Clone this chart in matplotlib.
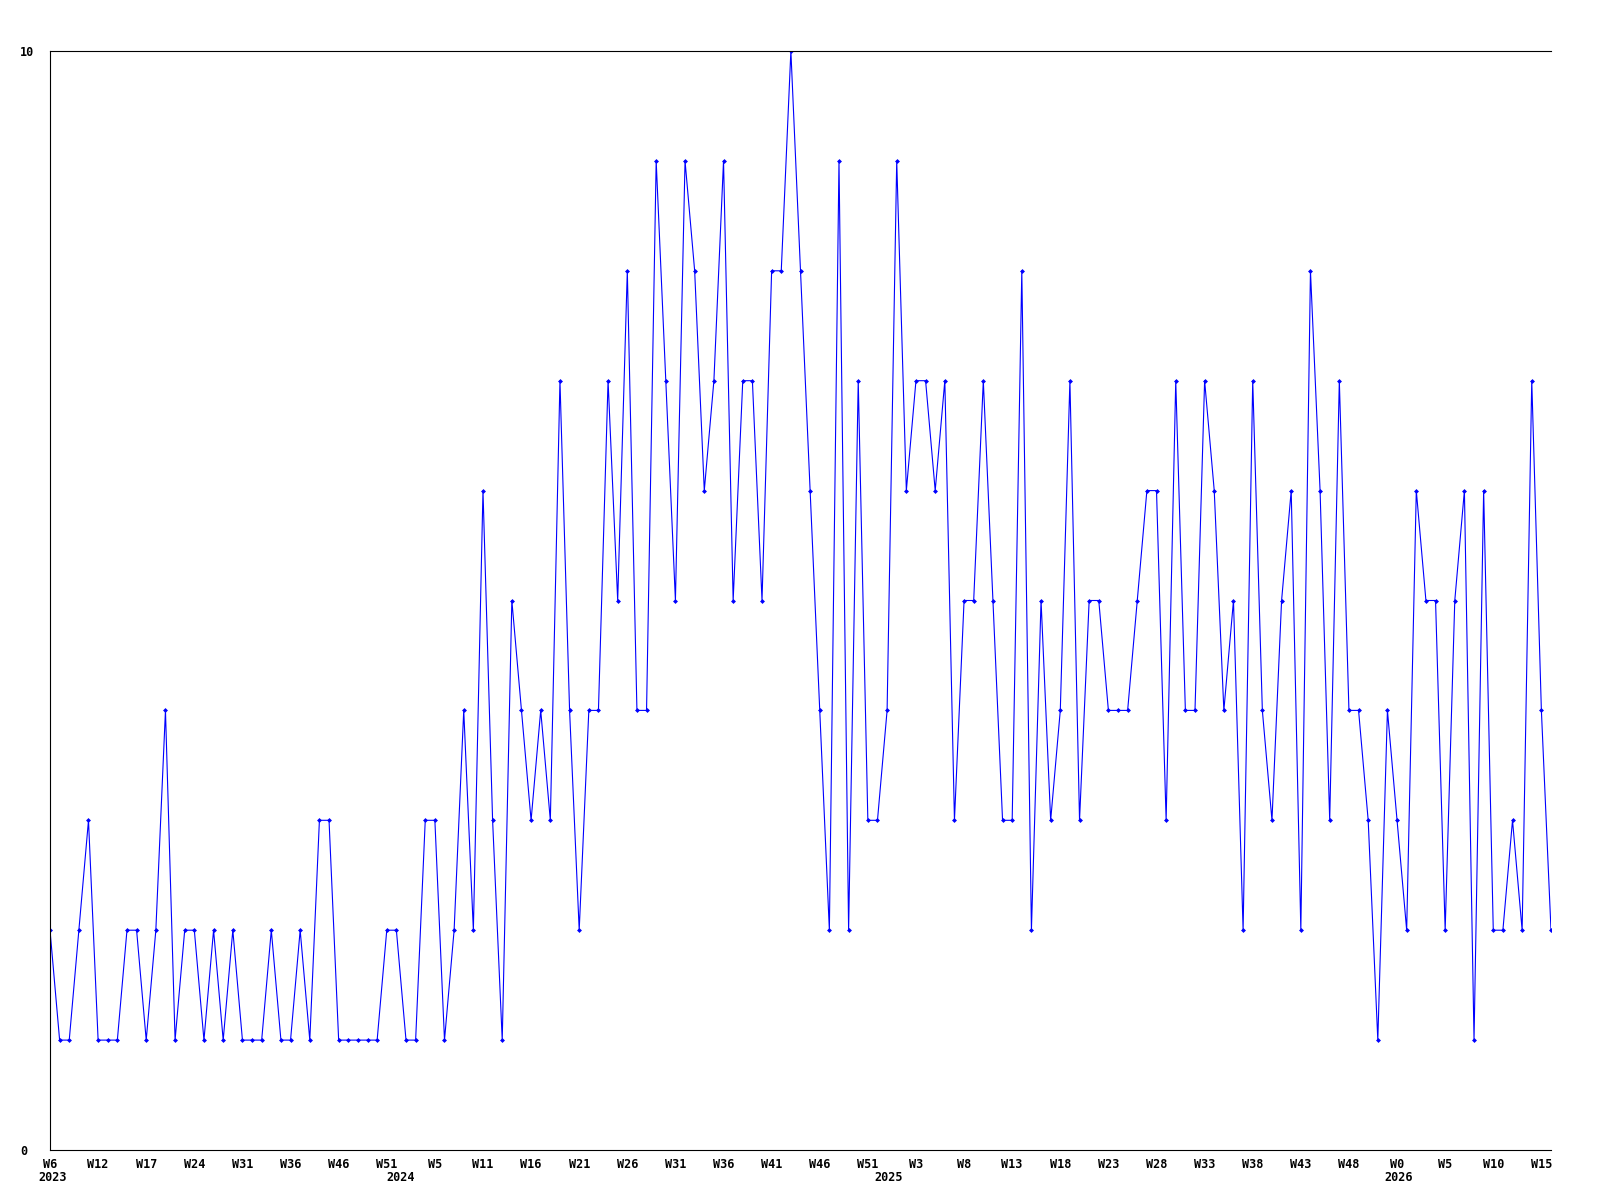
import matplotlib
matplotlib.use('Agg')
import matplotlib.pyplot as plt

# weekly values, one per point (157 points)
values = [2, 1, 1, 2, 3, 1, 1, 1, 2, 2, 1, 2, 4, 1, 2, 2, 1, 2, 1, 2,
          1, 1, 1, 2, 1, 1, 2, 1, 3, 3, 1, 1, 1, 1, 1, 2, 2, 1, 1, 3,
          3, 1, 2, 4, 2, 6, 3, 1, 5, 4, 3, 4, 3, 7, 4, 2, 4, 4, 7, 5,
          8, 4, 4, 9, 7, 5, 9, 8, 6, 7, 9, 5, 7, 7, 5, 8, 8, 10, 8, 6,
          4, 2, 9, 2, 7, 3, 3, 4, 9, 6, 7, 7, 6, 7, 3, 5, 5, 7, 5, 3,
          3, 8, 2, 5, 3, 4, 7, 3, 5, 5, 4, 4, 4, 5, 6, 6, 3, 7, 4, 4,
          7, 6, 4, 5, 2, 7, 4, 3, 5, 6, 2, 8, 6, 3, 7, 4, 4, 3, 1, 4,
          3, 2, 6, 5, 5, 2, 5, 6, 1, 6, 2, 2, 3, 2, 7, 4, 2]

# a label every 5th point
week_labels = ['W6', 'W12', 'W17', 'W24', 'W31', 'W36', 'W46', 'W51',
               'W5', 'W11', 'W16', 'W21', 'W26', 'W31', 'W36', 'W41',
               'W46', 'W51', 'W3', 'W8', 'W13', 'W18', 'W23', 'W28',
               'W33', 'W38', 'W43', 'W48', 'W0', 'W5', 'W10', 'W15']
years = ['2023', '2024', '2025', '2026']
year_pos = [0.3, 36.4, 87.2, 140.2]

font = dict(family='DejaVu Sans Mono', fontweight='bold', fontsize=8.5)

x = list(range(len(values)))

fig = plt.figure(figsize=(16, 12), dpi=100)
ax = fig.add_axes([50/1600, 50/1200, 1501/1600, 1099/1200])

ax.plot(x, values, color='#0000ff', linewidth=0.8, marker='D',
        markersize=2.5, markerfacecolor='#0000ff', markeredgewidth=0)

ax.set_xlim(0, len(values) - 1)
ax.set_ylim(0, 10)

ax.set_xticks(x[::5])
ax.set_xticklabels(week_labels, **font)
ax.set_yticks([0, 10])
ax.set_yticklabels(['0', '10'], **font)
ax.tick_params(axis='both', length=0)
ax.tick_params(axis='x', pad=5.5)
ax.tick_params(axis='y', pad=21.5)
for lbl in ax.get_yticklabels():
    lbl.set_ha('left')

for yr, p in zip(years, year_pos):
    ax.text(p, -0.19, yr, ha='center', va='top', **font)

ax.spines['right'].set_visible(False)
for s in ['left', 'bottom', 'top']:
    ax.spines[s].set_linewidth(0.8)
    ax.spines[s].set_color('black')

fig.savefig('out.png', dpi=100)
